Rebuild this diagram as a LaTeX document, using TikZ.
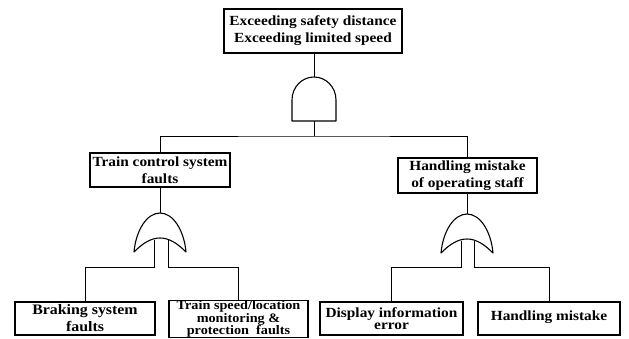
\documentclass[tikz,border=0pt]{standalone}
\usepackage{fontspec}
\setmainfont{Liberation Serif}[FakeStretch=1.1]
\begin{document}
\begin{tikzpicture}[x=1bp,y=-1bp,
  box/.style={draw, line width=1.4pt, inner sep=0pt, align=center},
  conn/.style={line width=0.9pt},
  gate/.style={draw, line width=1.1pt, line join=round},
  big/.style={font=\fontsize{14}{17}\selectfont\bfseries}]
\useasboundingbox (0,0) rectangle (629,338);
\clip (0,0) rectangle (629,338);
% boxes
\node[box, big, minimum width=178bp, minimum height=44bp] (top) at (313,31) {Exceeding safety distance\\Exceeding limited speed};
\node[box, big, minimum width=140bp, minimum height=34bp] (tcs) at (160,170) {Train control system\\faults};
\node[box, big, minimum width=139bp, minimum height=35bp] (hms) at (467.5,175.5) {Handling mistake\\of operating staff};
\node[box, font=\fontsize{14.5}{17}\selectfont\bfseries, minimum width=140bp, minimum height=33bp] (brk) at (85,318.5) {Braking system\\faults};
\node[box, font=\fontsize{13}{9.5}\selectfont\bfseries, minimum width=139bp, minimum height=34bp] (spd) at (238.5,319) {Train speed/location\\monitoring \&\\protection\ \ faults};
\node[box, font=\fontsize{14}{12.5}\selectfont\bfseries, minimum width=143bp, minimum height=33bp] (dsp) at (391.5,318.5) {Display information\\error};
\node[box, big, minimum width=142bp, minimum height=33bp] (hmk) at (549,318.5) {\raisebox{5bp}{Handling mistake}};
% AND gate
\coordinate (andtop) at (314,77);
\coordinate (andbot) at (314,121);
\draw[gate] (292,121) -- (292,100) .. controls (292,87) and (302,77) .. (andtop)
  .. controls (326,77) and (336,87) .. (336,100) -- (336,121) -- cycle;
\draw[conn] (andtop) -- (andtop |- top.south);
\coordinate (bus) at (314,136);
\draw[conn] (andbot) -- (bus);
\draw[conn] (tcs.north) |- (bus) -| (hms.north);
% left OR gate
\coordinate (or1top) at (160,213);
\draw[gate] (134,252) .. controls (136,230) and (147,213) .. (or1top)
  .. controls (173,213) and (184,230) .. (186,252)
  .. controls (177,243) and (169,238) .. (160,238)
  .. controls (151,238) and (143,243) .. (134,252) -- cycle;
\draw[conn] (tcs.south) -- (or1top);
\coordinate (l1a) at (154,239.5);
\coordinate (l1b) at (168,239.5);
\coordinate (j1a) at (154,267);
\coordinate (j1b) at (168,267);
\draw[conn] (l1a) -- (j1a) -| (brk.north);
\draw[conn] (l1b) -- (j1b) -| (spd.north);
% right OR gate
\coordinate (or2top) at (467,214);
\draw[gate] (441,253) .. controls (443,231) and (454,214) .. (or2top)
  .. controls (480,214) and (491,231) .. (493,253)
  .. controls (484,244) and (476,239) .. (467,239)
  .. controls (458,239) and (450,244) .. (441,253) -- cycle;
\draw[conn] (hms.south) -- (hms.south |- or2top);
\coordinate (l2a) at (461,240.5);
\coordinate (l2b) at (474,240.5);
\coordinate (j2a) at (461,267);
\coordinate (j2b) at (474,267);
\draw[conn] (l2a) -- (j2a) -| (dsp.north);
\draw[conn] (l2b) -- (j2b) -| (hmk.north);
\end{tikzpicture}
\end{document}
